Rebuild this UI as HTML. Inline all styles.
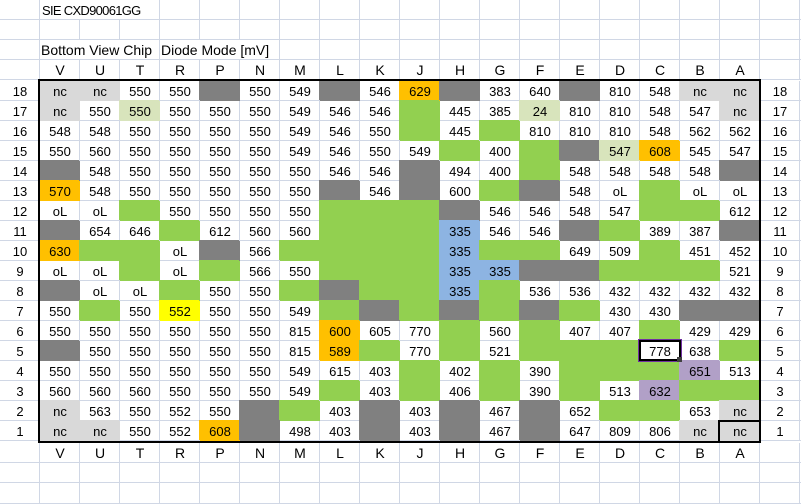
<!DOCTYPE html>
<html><head><meta charset="utf-8">
<style>
*{margin:0;padding:0;box-sizing:border-box}
body{width:801px;height:504px;position:relative;overflow:hidden;background:#fff;font-family:"Liberation Sans",sans-serif;color:#000}
.r{position:absolute;left:0;width:801px;height:20px;display:flex;background-image:linear-gradient(to top,#d0d7e5 1px,transparent 1px),repeating-linear-gradient(to right,transparent 0 39px,#d0d7e5 39px 40px)}
.r>div{flex:none;width:40px;height:20px;text-align:center;font-size:13px;line-height:21px;white-space:nowrap}
.h>div{font-size:14px;line-height:20px}
.r>div.t{background:#fff;height:19px;text-align:left;padding-left:2px}
.g{background:#808080;box-shadow:-1px -1px 0 #808080}
.n{background:#92d050;box-shadow:-1px -1px 0 #92d050}
.l{background:#d9d9d9;box-shadow:-1px -1px 0 #d9d9d9}
.p{background:#d8e4bc;box-shadow:-1px -1px 0 #d8e4bc}
.o{background:#ffc000;box-shadow:-1px -1px 0 #ffc000}
.y{background:#ffff00;box-shadow:-1px -1px 0 #ffff00}
.b{background:#8db4e2;box-shadow:-1px -1px 0 #8db4e2}
.u{background:#b1a0c7;box-shadow:-1px -1px 0 #b1a0c7}
.box{position:absolute}
</style></head><body>

<div class="r" style="top:0"><div></div><div class="t" style="width:119px;letter-spacing:-0.7px">SIE CXD90061GG</div></div>
<div class="r" style="top:20px"></div>
<div class="r" style="top:40px"><div></div><div class="t" style="width:119px;font-size:14px;line-height:20px;padding-left:1px">Bottom View Chip</div><div style="width:1px"></div><div class="t" style="width:119px;font-size:14px;line-height:20px;padding-left:1px">Diode Mode [mV]</div></div>
<div class="r h" style="top:60px"><div></div><div>V</div><div>U</div><div>T</div><div>R</div><div>P</div><div>N</div><div>M</div><div>L</div><div>K</div><div>J</div><div>H</div><div>G</div><div>F</div><div>E</div><div>D</div><div>C</div><div>B</div><div>A</div></div>

<div class="r" style="top:81px"><div>18</div><div class=l>nc</div><div class=l>nc</div><div>550</div><div>550</div><div class=g></div><div>550</div><div>549</div><div class=g></div><div>546</div><div class=o>629</div><div class=g></div><div>383</div><div>640</div><div class=g></div><div>810</div><div>548</div><div class=l>nc</div><div class=l>nc</div><div>18</div></div>

<div class="r" style="top:101px"><div>17</div><div class=l>nc</div><div>550</div><div class=p>550</div><div>550</div><div>550</div><div>550</div><div>549</div><div>546</div><div>546</div><div class=n></div><div>445</div><div>385</div><div class=p>24</div><div>810</div><div>810</div><div>548</div><div>547</div><div class=l>nc</div><div>17</div></div>

<div class="r" style="top:121px"><div>16</div><div>548</div><div>548</div><div>550</div><div>550</div><div>550</div><div>550</div><div>549</div><div>546</div><div>550</div><div class=n></div><div>445</div><div class=n></div><div>810</div><div>810</div><div>810</div><div>548</div><div>562</div><div>562</div><div>16</div></div>

<div class="r" style="top:141px"><div>15</div><div>550</div><div>560</div><div>550</div><div>550</div><div>550</div><div>550</div><div>549</div><div>546</div><div>550</div><div>549</div><div class=n></div><div>400</div><div class=n></div><div class=g></div><div class=p>547</div><div class=o>608</div><div>545</div><div>547</div><div>15</div></div>

<div class="r" style="top:161px"><div>14</div><div class=g></div><div>548</div><div>550</div><div>550</div><div>550</div><div>550</div><div>550</div><div>546</div><div>546</div><div class=g></div><div>494</div><div>400</div><div class=n></div><div>548</div><div>548</div><div>548</div><div>548</div><div class=g></div><div>14</div></div>

<div class="r" style="top:181px"><div>13</div><div class=o>570</div><div>548</div><div>550</div><div>550</div><div>550</div><div>550</div><div>550</div><div class=g></div><div>546</div><div class=g></div><div>600</div><div class=n></div><div class=g></div><div>548</div><div>oL</div><div class=n></div><div>oL</div><div>oL</div><div>13</div></div>

<div class="r" style="top:201px"><div>12</div><div>oL</div><div>oL</div><div class=n></div><div>550</div><div>550</div><div>550</div><div>550</div><div class=n></div><div class=n></div><div class=n></div><div class=g></div><div>546</div><div>546</div><div>548</div><div>547</div><div class=n></div><div class=n></div><div>612</div><div>12</div></div>

<div class="r" style="top:221px"><div>11</div><div class=g></div><div>654</div><div>646</div><div class=n></div><div>612</div><div>560</div><div>560</div><div class=n></div><div class=n></div><div class=n></div><div class=b>335</div><div>546</div><div>546</div><div class=g></div><div class=n></div><div>389</div><div>387</div><div class=g></div><div>11</div></div>

<div class="r" style="top:241px"><div>10</div><div class=o>630</div><div class=n></div><div class=n></div><div>oL</div><div class=g></div><div>566</div><div class=n></div><div class=n></div><div class=n></div><div class=n></div><div class=b>335</div><div class=n></div><div class=n></div><div>649</div><div>509</div><div class=n></div><div>451</div><div>452</div><div>10</div></div>

<div class="r" style="top:261px"><div>9</div><div>oL</div><div>oL</div><div class=n></div><div>oL</div><div class=n></div><div>566</div><div>550</div><div class=n></div><div class=n></div><div class=n></div><div class=b>335</div><div class=b>335</div><div class=g></div><div class=g></div><div class=n></div><div class=n></div><div class=n></div><div>521</div><div>9</div></div>

<div class="r" style="top:281px"><div>8</div><div class=g></div><div>oL</div><div>oL</div><div class=n></div><div>550</div><div>550</div><div class=n></div><div class=g></div><div class=n></div><div class=n></div><div class=b>335</div><div class=n></div><div>536</div><div>536</div><div>432</div><div>432</div><div>432</div><div>432</div><div>8</div></div>

<div class="r" style="top:301px"><div>7</div><div>550</div><div class=n></div><div>550</div><div class=y>552</div><div>550</div><div>550</div><div>549</div><div class=n></div><div class=g></div><div class=n></div><div class=g></div><div class=n></div><div class=g></div><div class=n></div><div>430</div><div>430</div><div class=g></div><div class=g></div><div>7</div></div>

<div class="r" style="top:321px"><div>6</div><div>550</div><div>550</div><div>550</div><div>550</div><div>550</div><div>550</div><div>815</div><div class=o>600</div><div>605</div><div>770</div><div class=n></div><div>560</div><div class=n></div><div>407</div><div>407</div><div class=n></div><div>429</div><div>429</div><div>6</div></div>

<div class="r" style="top:341px"><div>5</div><div class=g></div><div>550</div><div>550</div><div>550</div><div>550</div><div>550</div><div>815</div><div class=o>589</div><div class=n></div><div>770</div><div class=n></div><div>521</div><div class=n></div><div class=n></div><div class=n></div><div style="background:#fff">778</div><div>638</div><div class=n></div><div>5</div></div>

<div class="r" style="top:361px"><div>4</div><div>550</div><div>550</div><div>550</div><div>550</div><div>550</div><div>550</div><div>549</div><div>615</div><div>403</div><div class=n></div><div>402</div><div class=n></div><div>390</div><div class=n></div><div class=n></div><div class=n></div><div class=u>651</div><div>513</div><div>4</div></div>

<div class="r" style="top:381px"><div>3</div><div>560</div><div>560</div><div>560</div><div>550</div><div>550</div><div>550</div><div>549</div><div class=n></div><div>403</div><div class=n></div><div>406</div><div class=n></div><div>390</div><div class=n></div><div>513</div><div class=u>632</div><div class=n></div><div class=n></div><div>3</div></div>

<div class="r" style="top:401px"><div>2</div><div class=l>nc</div><div>563</div><div>550</div><div>552</div><div>550</div><div class=g></div><div class=n></div><div>403</div><div class=g></div><div>403</div><div class=g></div><div>467</div><div class=g></div><div>652</div><div class=n></div><div class=n></div><div>653</div><div class=l>nc</div><div>2</div></div>

<div class="r" style="top:421px"><div>1</div><div class=l>nc</div><div class=l>nc</div><div>550</div><div>552</div><div class=o>608</div><div class=g></div><div>498</div><div>403</div><div class=g></div><div>403</div><div class=g></div><div>467</div><div class=g></div><div>647</div><div>809</div><div>806</div><div class=l>nc</div><div class=l>nc</div><div>1</div></div>

<div class="r h" style="top:443px"><div></div><div>V</div><div>U</div><div>T</div><div>R</div><div>P</div><div>N</div><div>M</div><div>L</div><div>K</div><div>J</div><div>H</div><div>G</div><div>F</div><div>E</div><div>D</div><div>C</div><div>B</div><div>A</div></div>
<div class="r" style="top:463px"></div>
<div class="r" style="top:483px;height:21px"></div>

<div class="box" style="left:38px;top:79px;width:723px;height:364px;border:2px solid #000"></div>
<div class="box" style="left:718px;top:420px;width:43px;height:23px;border:2px solid #000"></div>
<div class="box" style="left:638px;top:339px;width:44px;height:23px;border:1px solid #7030a0;box-shadow:inset 0 0 0 2px #000"></div>
<div class="box" style="left:677px;top:357px;width:5px;height:5px;background:#404040"></div>

</body></html>
